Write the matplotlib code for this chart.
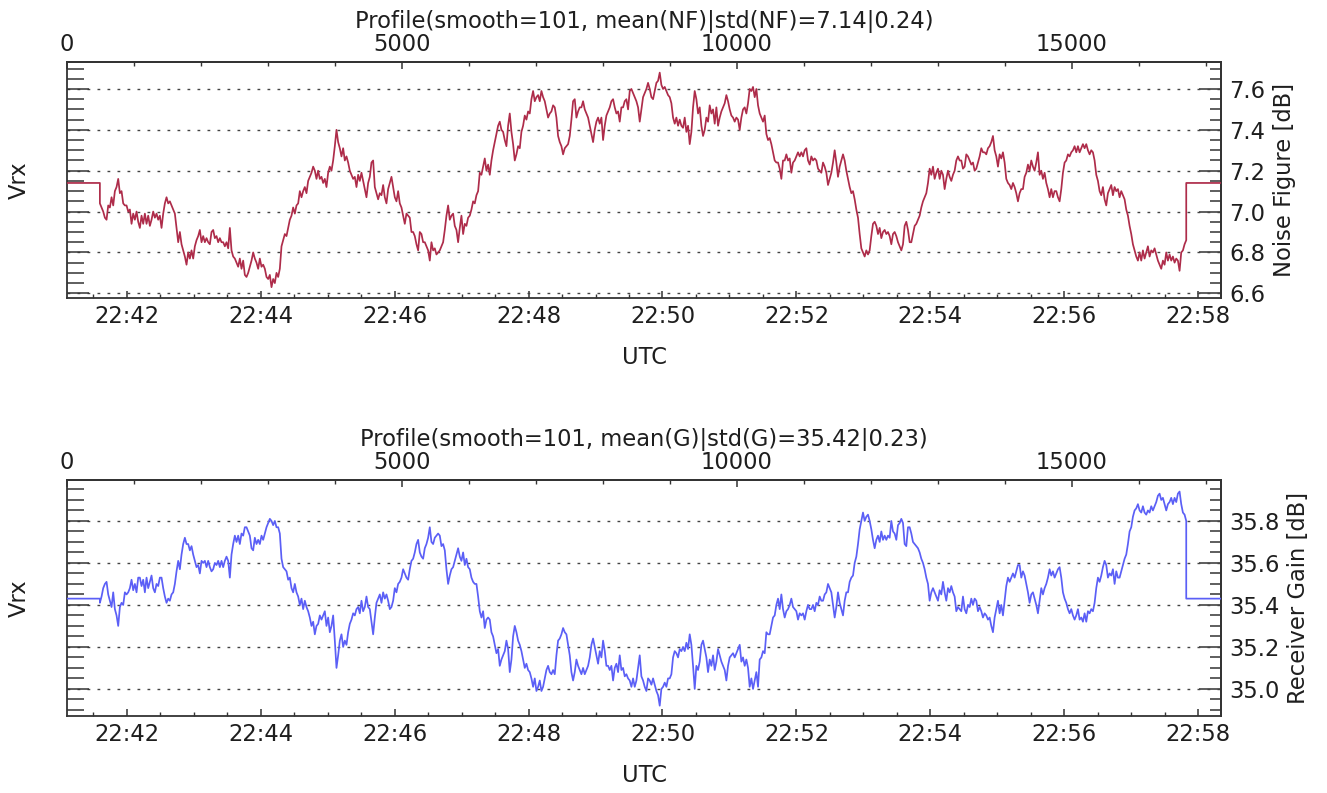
import numpy as np
import matplotlib
matplotlib.use("Agg")
import matplotlib.pyplot as plt
from matplotlib.ticker import MultipleLocator, FuncFormatter, FormatStrFormatter, FixedLocator

# ---------------- data ----------------
HOUR = 22                 # times are minutes after 22:00 UTC
T_PAD_START = 41.109      # time of sample 0 (22:41:06.5)
T_PAD_END = 58.339        # time of last sample
T_FIRST = 41.60           # first valid (non padded) sample
T_LAST = 57.82            # last valid sample
SAMPLES_PER_MIN = 1000

NF_PAD = 7.14             # padding value = mean(NF)
G_PAD = 35.43             # padding value = mean(G)

NF_TITLE = "Profile(smooth=101, mean(NF)|std(NF)=7.14|0.24)"
G_TITLE = "Profile(smooth=101, mean(G)|std(G)=35.42|0.23)"

INDEX_MAJOR = [0, 5000, 10000, 15000]
INDEX_MINOR = [1000, 2000, 3000, 4000, 6000, 7000, 8000, 9000,
               11000, 12000, 13000, 14000, 16000, 17000]

nf_values = [
    7.04, 7.02, 7.00, 6.97, 6.96, 7.03, 7.02, 7.07, 7.03, 7.10,
    7.12, 7.16, 7.09, 7.10, 7.04, 7.03, 7.03, 7.00, 7.01, 6.94,
    6.99, 6.96, 7.00, 6.95, 6.92, 6.98, 6.94, 6.99, 6.94, 6.98,
    6.93, 6.96, 7.00, 6.97, 6.99, 6.96, 6.98, 6.92, 6.99, 7.04,
    7.07, 7.04, 7.05, 7.03, 7.01, 6.99, 6.92, 6.85, 6.90, 6.84,
    6.81, 6.78, 6.74, 6.80, 6.77, 6.81, 6.77, 6.83, 6.86, 6.88,
    6.91, 6.85, 6.88, 6.85, 6.87, 6.85, 6.84, 6.90, 6.91, 6.87,
    6.88, 6.85, 6.87, 6.85, 6.85, 6.83, 6.85, 6.82, 6.92, 6.81,
    6.78, 6.77, 6.75, 6.73, 6.77, 6.72, 6.76, 6.69, 6.68, 6.70,
    6.73, 6.76, 6.80, 6.77, 6.75, 6.72, 6.77, 6.73, 6.74, 6.72,
    6.68, 6.67, 6.69, 6.63, 6.67, 6.65, 6.70, 6.68, 6.72, 6.83,
    6.86, 6.89, 6.88, 6.92, 6.96, 6.98, 7.02, 6.99, 7.03, 7.04,
    7.10, 7.07, 7.10, 7.12, 7.09, 7.15, 7.17, 7.19, 7.22, 7.20,
    7.16, 7.20, 7.16, 7.17, 7.14, 7.16, 7.12, 7.19, 7.22, 7.20,
    7.25, 7.32, 7.40, 7.34, 7.31, 7.27, 7.31, 7.25, 7.27, 7.24,
    7.20, 7.18, 7.16, 7.17, 7.12, 7.18, 7.15, 7.19, 7.15, 7.11,
    7.07, 7.14, 7.17, 7.24, 7.25, 7.12, 7.09, 7.06, 7.09, 7.08,
    7.13, 7.07, 7.04, 7.11, 7.14, 7.17, 7.12, 7.07, 7.05, 7.10,
    7.04, 7.02, 6.98, 6.94, 6.99, 6.98, 6.97, 6.90, 6.90, 6.88,
    6.84, 6.81, 6.90, 6.89, 6.85, 6.85, 6.83, 6.81, 6.76, 6.85,
    6.81, 6.82, 6.79, 6.80, 6.81, 6.83, 6.85, 6.91, 6.98, 7.03,
    6.96, 6.98, 6.99, 6.93, 6.91, 6.85, 6.92, 6.98, 6.89, 6.94,
    6.93, 6.97, 6.98, 7.01, 7.05, 7.04, 7.08, 7.10, 7.19, 7.18,
    7.22, 7.26, 7.20, 7.23, 7.18, 7.25, 7.30, 7.34, 7.38, 7.42,
    7.44, 7.40, 7.39, 7.35, 7.32, 7.42, 7.48, 7.39, 7.33, 7.25,
    7.28, 7.32, 7.31, 7.39, 7.42, 7.47, 7.45, 7.49, 7.48, 7.55,
    7.59, 7.54, 7.56, 7.57, 7.54, 7.59, 7.56, 7.54, 7.50, 7.46,
    7.48, 7.49, 7.52, 7.51, 7.46, 7.37, 7.34, 7.32, 7.28, 7.31,
    7.32, 7.33, 7.37, 7.45, 7.54, 7.55, 7.46, 7.49, 7.51, 7.51,
    7.54, 7.50, 7.48, 7.46, 7.42, 7.38, 7.34, 7.40, 7.44, 7.46,
    7.43, 7.46, 7.35, 7.42, 7.47, 7.49, 7.51, 7.54, 7.55, 7.51,
    7.48, 7.49, 7.44, 7.51, 7.51, 7.54, 7.55, 7.50, 7.59, 7.60,
    7.58, 7.56, 7.54, 7.51, 7.44, 7.50, 7.56, 7.58, 7.60, 7.63,
    7.60, 7.56, 7.55, 7.59, 7.63, 7.64, 7.68, 7.62, 7.60, 7.61,
    7.59, 7.57, 7.56, 7.53, 7.46, 7.43, 7.46, 7.42, 7.45, 7.42,
    7.41, 7.46, 7.39, 7.42, 7.33, 7.39, 7.51, 7.59, 7.55, 7.48,
    7.51, 7.42, 7.37, 7.40, 7.46, 7.44, 7.52, 7.48, 7.50, 7.43,
    7.51, 7.42, 7.46, 7.49, 7.51, 7.53, 7.57, 7.54, 7.50, 7.47,
    7.46, 7.44, 7.46, 7.45, 7.40, 7.46, 7.50, 7.51, 7.48, 7.53,
    7.60, 7.59, 7.61, 7.56, 7.60, 7.52, 7.48, 7.46, 7.44, 7.47,
    7.38, 7.35, 7.36, 7.33, 7.29, 7.25, 7.24, 7.24, 7.21, 7.16,
    7.25, 7.25, 7.28, 7.25, 7.26, 7.19, 7.24, 7.25, 7.27, 7.29,
    7.27, 7.29, 7.27, 7.30, 7.31, 7.25, 7.23, 7.27, 7.25, 7.26,
    7.25, 7.21, 7.20, 7.19, 7.24, 7.22, 7.19, 7.13,
    7.16, 7.19, 7.24, 7.30, 7.24, 7.17, 7.22, 7.25, 7.28, 7.25,
    7.20, 7.16, 7.12, 7.09, 7.10, 7.06, 7.01, 6.97, 6.89, 6.82,
    6.80, 6.78, 6.81, 6.79, 6.81, 6.88, 6.94, 6.95, 6.93, 6.89,
    6.92, 6.87, 6.90, 6.91, 6.89, 6.90, 6.88, 6.84, 6.89, 6.90,
    6.88, 6.85, 6.83, 6.81, 6.84, 6.93, 6.95, 6.91, 6.85, 6.85,
    6.89, 6.93, 6.94, 6.96, 6.98, 7.02, 7.05, 7.07, 7.09, 7.14,
    7.21, 7.18, 7.22, 7.16, 7.19, 7.21, 7.16, 7.20, 7.18, 7.11,
    7.16, 7.20, 7.17, 7.15, 7.18, 7.20, 7.25, 7.27, 7.25, 7.25,
    7.21, 7.22, 7.28, 7.27, 7.25, 7.23, 7.24, 7.20, 7.21, 7.24,
    7.27, 7.31, 7.29, 7.29, 7.28, 7.31, 7.32, 7.34, 7.37, 7.30,
    7.27, 7.22, 7.28, 7.26, 7.29, 7.24, 7.16, 7.14, 7.13, 7.11,
    7.14, 7.12, 7.09, 7.05, 7.09, 7.11, 7.11, 7.17, 7.19, 7.23,
    7.20, 7.25, 7.22, 7.20, 7.24, 7.29, 7.18, 7.20, 7.16, 7.19,
    7.14, 7.11, 7.07, 7.11, 7.07, 7.10, 7.10, 7.07, 7.05, 7.11,
    7.19, 7.24, 7.25, 7.28, 7.27, 7.29, 7.30, 7.32, 7.29, 7.32,
    7.29, 7.31, 7.33, 7.31, 7.33, 7.30, 7.28, 7.30, 7.29, 7.25,
    7.18, 7.15, 7.10, 7.08, 7.12, 7.06, 7.03, 7.09, 7.11, 7.13,
    7.08, 7.12, 7.10, 7.11, 7.07, 7.10, 7.08, 7.06, 7.01, 6.98,
    6.93, 6.89, 6.84, 6.81, 6.78, 6.76, 6.80, 6.76, 6.81, 6.77,
    6.80, 6.83, 6.78, 6.81, 6.80, 6.82, 6.79, 6.76, 6.74, 6.72,
    6.76, 6.74, 6.80, 6.76, 6.79, 6.76, 6.78, 6.75, 6.77, 6.76,
    6.71, 6.80, 6.81, 6.84, 6.86,
]

g_values = [
    35.41, 35.44, 35.48, 35.50, 35.51, 35.45, 35.42, 35.39, 35.46, 35.38,
    35.35, 35.30, 35.39, 35.41, 35.40, 35.46, 35.45, 35.46, 35.48, 35.52,
    35.47, 35.50, 35.46, 35.53, 35.53, 35.49, 35.52, 35.46, 35.53, 35.48,
    35.51, 35.54, 35.48, 35.46, 35.50, 35.49, 35.53, 35.53, 35.48, 35.44,
    35.41, 35.43, 35.42, 35.45, 35.46, 35.50, 35.56, 35.61, 35.57, 35.64,
    35.69, 35.72, 35.69, 35.69, 35.66, 35.68, 35.64, 35.61, 35.58, 35.59,
    35.55, 35.61, 35.60, 35.61, 35.58, 35.61, 35.58, 35.56, 35.57, 35.60,
    35.59, 35.61, 35.58, 35.61, 35.58, 35.61, 35.63, 35.61, 35.53, 35.64,
    35.69, 35.73, 35.70, 35.73, 35.69, 35.74, 35.73, 35.77, 35.77, 35.75,
    35.73, 35.67, 35.66, 35.72, 35.69, 35.71, 35.69, 35.73, 35.71, 35.74,
    35.77, 35.79, 35.81, 35.80, 35.78, 35.80, 35.77, 35.77, 35.74, 35.62,
    35.58, 35.57, 35.56, 35.52, 35.53, 35.48, 35.46, 35.50, 35.46, 35.44,
    35.40, 35.43, 35.38, 35.42, 35.39, 35.37, 35.34, 35.30, 35.32, 35.26,
    35.30, 35.31, 35.35, 35.33, 35.35, 35.37, 35.30, 35.34, 35.27, 35.30,
    35.35, 35.23, 35.10, 35.16, 35.23, 35.26, 35.20, 35.23, 35.21, 35.27,
    35.31, 35.33, 35.36, 35.35, 35.38, 35.39, 35.36, 35.42, 35.37, 35.39,
    35.44, 35.39, 35.38, 35.32, 35.26, 35.34, 35.41, 35.43, 35.45, 35.41,
    35.46, 35.43, 35.45, 35.42, 35.38, 35.39, 35.42, 35.48, 35.46, 35.50,
    35.51, 35.53, 35.57, 35.55, 35.53, 35.52, 35.57, 35.61, 35.62, 35.65,
    35.69, 35.71, 35.65, 35.63, 35.62, 35.67, 35.69, 35.72, 35.77, 35.70,
    35.69, 35.72, 35.73, 35.74, 35.73, 35.68, 35.69, 35.66, 35.57, 35.50,
    35.54, 35.57, 35.58, 35.61, 35.64, 35.67, 35.63, 35.61, 35.65, 35.59,
    35.62, 35.58, 35.57, 35.53, 35.51, 35.50, 35.50, 35.44, 35.37, 35.34,
    35.37, 35.29, 35.33, 35.34, 35.33, 35.27, 35.25, 35.21, 35.17, 35.19,
    35.11, 35.14, 35.16, 35.18, 35.23, 35.19, 35.08, 35.14, 35.25, 35.30,
    35.27, 35.23, 35.21, 35.18, 35.14, 35.10, 35.12, 35.09, 35.08, 35.05,
    35.01, 35.05, 34.99, 35.01, 35.04, 34.99, 35.01, 35.05, 35.09, 35.11,
    35.08, 35.07, 35.09, 35.07, 35.16, 35.23, 35.24, 35.26, 35.29, 35.27,
    35.26, 35.21, 35.16, 35.08, 35.04, 35.08, 35.14, 35.11, 35.09, 35.07,
    35.10, 35.07, 35.09, 35.11, 35.15, 35.21, 35.24, 35.20, 35.16, 35.12,
    35.18, 35.15, 35.23, 35.18, 35.11, 35.11, 35.09, 35.11, 35.04, 35.10,
    35.12, 35.08, 35.16, 35.09, 35.10, 35.06, 35.07, 35.05, 35.04, 35.01,
    35.05, 35.01, 35.04, 35.10, 35.16, 35.06, 35.04, 35.01, 34.99, 35.05,
    35.04, 35.02, 35.05, 35.02, 34.99, 34.97, 34.92, 35.00, 35.01, 35.03,
    35.01, 35.05, 35.05, 35.07, 35.15, 35.18, 35.17, 35.15, 35.19, 35.18,
    35.20, 35.18, 35.22, 35.19, 35.26, 35.21, 35.11, 35.00, 35.11, 35.09,
    35.13, 35.21, 35.23, 35.19, 35.15, 35.08, 35.14, 35.11, 35.16, 35.09,
    35.13, 35.19, 35.16, 35.13, 35.11, 35.09, 35.04, 35.11, 35.15, 35.16,
    35.17, 35.15, 35.17, 35.19, 35.21, 35.13, 35.15, 35.11, 35.14, 35.10,
    35.01, 35.05, 35.00, 35.04, 35.08, 35.01, 35.14, 35.15, 35.18, 35.17,
    35.27, 35.26, 35.26, 35.30, 35.34, 35.35, 35.40, 35.43, 35.38, 35.45,
    35.38, 35.34, 35.37, 35.38, 35.40, 35.43, 35.39, 35.38, 35.37, 35.33,
    35.36, 35.35, 35.36, 35.33, 35.37, 35.40, 35.38, 35.38, 35.40, 35.37,
    35.41, 35.40, 35.44, 35.42, 35.42, 35.45, 35.46, 35.50,
    35.48, 35.46, 35.40, 35.34, 35.39, 35.46, 35.41, 35.38, 35.35, 35.42,
    35.46, 35.46, 35.51, 35.53, 35.54, 35.60, 35.63, 35.69, 35.76, 35.80,
    35.84, 35.80, 35.82, 35.83, 35.80, 35.76, 35.71, 35.67, 35.71, 35.73,
    35.70, 35.75, 35.71, 35.73, 35.71, 35.73, 35.72, 35.80, 35.75, 35.74,
    35.71, 35.78, 35.79, 35.81, 35.79, 35.69, 35.68, 35.77, 35.77, 35.74,
    35.70, 35.69, 35.68, 35.67, 35.65, 35.62, 35.60, 35.57, 35.53, 35.50,
    35.42, 35.46, 35.48, 35.46, 35.44, 35.42, 35.47, 35.45, 35.51, 35.46,
    35.42, 35.48, 35.46, 35.49, 35.46, 35.44, 35.37, 35.39, 35.38, 35.37,
    35.44, 35.38, 35.36, 35.40, 35.39, 35.43, 35.40, 35.43, 35.42, 35.37,
    35.39, 35.37, 35.34, 35.36, 35.35, 35.33, 35.34, 35.30, 35.27, 35.34,
    35.38, 35.42, 35.36, 35.40, 35.35, 35.42, 35.49, 35.53, 35.51, 35.53,
    35.55, 35.53, 35.56, 35.59, 35.59, 35.53, 35.56, 35.54, 35.50, 35.46,
    35.41, 35.45, 35.46, 35.43, 35.40, 35.36, 35.42, 35.48, 35.45, 35.48,
    35.50, 35.53, 35.57, 35.54, 35.56, 35.53, 35.55, 35.57, 35.58, 35.53,
    35.46, 35.43, 35.41, 35.38, 35.36, 35.38, 35.35, 35.33, 35.35, 35.38,
    35.33, 35.34, 35.32, 35.36, 35.32, 35.37, 35.36, 35.38, 35.37, 35.41,
    35.48, 35.53, 35.51, 35.54, 35.58, 35.61, 35.59, 35.53, 35.55, 35.54,
    35.57, 35.50, 35.56, 35.53, 35.53, 35.56, 35.59, 35.62, 35.64, 35.69,
    35.75, 35.77, 35.82, 35.85, 35.86, 35.88, 35.85, 35.84, 35.87, 35.84,
    35.83, 35.85, 35.84, 35.87, 35.85, 35.87, 35.89, 35.92, 35.93, 35.90,
    35.91, 35.88, 35.85, 35.88, 35.89, 35.91, 35.88, 35.91, 35.89, 35.93,
    35.94, 35.88, 35.84, 35.83, 35.80,
]

NF_YLIM = (6.577, 7.732)
G_YLIM = (34.871, 35.995)
NF_COLOR = "#AE2C4A"
G_COLOR = "#5B5FF6"

# ---------------- figure ----------------
plt.rcParams["font.family"] = ["DejaVu Sans"]
FS = 16.3
TXT = "#1e1e1e"
SPINE = "#333333"
GRID = "#444444"

W, H = 1327, 793
fig = plt.figure(figsize=(W / 100, H / 100), dpi=100)


def rect(left, top, right, bottom):
    return [left / W, 1 - bottom / H, (right - left) / W, (bottom - top) / H]


def time_fmt(v, pos):
    total = HOUR * 60 + int(round(v))
    return f"{total // 60:02d}:{total % 60:02d}"


def panel(r, values, pad, color, ylim, title, right_label, right_label_x):
    ax = fig.add_axes(r)
    t = np.linspace(T_FIRST, T_LAST, len(values))
    x = np.concatenate([[T_PAD_START, T_FIRST], t, [T_LAST, T_PAD_END]])
    y = np.concatenate([[pad, pad], values, [pad, pad]])
    ax.plot(x, y, color=color, lw=1.25, zorder=3)
    ax.set_xlim(T_PAD_START, T_PAD_END)
    ax.set_ylim(*ylim)

    for s in ax.spines.values():
        s.set_color(SPINE)
        s.set_linewidth(1.3)

    # left (Vrx) axis: ticks only
    ax.yaxis.set_major_locator(MultipleLocator(0.2))
    ax.yaxis.set_minor_locator(MultipleLocator(0.05))
    ax.grid(axis="y", which="major", linestyle=(0, (2.0, 5.2)), color=GRID, lw=1.0)
    ax.tick_params(axis="y", which="major", direction="in", length=16, width=1.1,
                   color=SPINE, left=True, right=False, labelleft=False)
    ax.tick_params(axis="y", which="minor", direction="in", length=12, width=1.1,
                   color=SPINE, left=True, right=False)
    ax.set_ylabel("Vrx", fontsize=FS, color=TXT, va="center", ha="center")
    ax.yaxis.set_label_coords((19.5 - 67) / 1154, 0.5)

    # bottom time axis
    ax.xaxis.set_major_locator(MultipleLocator(2))
    ax.xaxis.set_minor_locator(MultipleLocator(0.5))
    ax.xaxis.set_major_formatter(FuncFormatter(time_fmt))
    ax.tick_params(axis="x", which="major", direction="in", length=5, width=1.1,
                   color=SPINE, top=False, labelsize=FS, labelcolor=TXT, pad=5)
    ax.tick_params(axis="x", which="minor", direction="in", length=3, width=1.0,
                   color=SPINE, top=False)
    ax.set_xlabel("UTC", fontsize=FS, color=TXT, va="center", ha="center")
    ax.xaxis.set_label_coords(0.5, -60 / 236)

    # top sample-index axis
    sec = ax.secondary_xaxis(
        "top",
        functions=(lambda tt: (tt - T_PAD_START) * SAMPLES_PER_MIN,
                   lambda ss: ss / SAMPLES_PER_MIN + T_PAD_START))
    sec.xaxis.set_major_locator(FixedLocator(INDEX_MAJOR))
    sec.xaxis.set_minor_locator(FixedLocator(INDEX_MINOR))
    sec.xaxis.set_major_formatter(FormatStrFormatter("%d"))
    sec.tick_params(axis="x", which="major", direction="in", length=5, width=1.1,
                    color=SPINE, labelsize=FS, labelcolor=TXT, pad=4)
    sec.tick_params(axis="x", which="minor", direction="in", length=3, width=1.0,
                    color=SPINE)
    sec.spines["top"].set_color(SPINE)
    sec.spines["top"].set_linewidth(1.3)

    # right value axis
    secy = ax.secondary_yaxis("right")
    secy.yaxis.set_major_locator(MultipleLocator(0.2))
    secy.yaxis.set_minor_locator(MultipleLocator(0.05))
    secy.yaxis.set_major_formatter(FormatStrFormatter("%.1f"))
    secy.tick_params(axis="y", which="major", direction="in", length=16, width=1.1,
                     color=SPINE, labelsize=FS, labelcolor=TXT, pad=6)
    secy.tick_params(axis="y", which="minor", direction="in", length=8, width=1.1,
                     color=SPINE)
    secy.spines["right"].set_color(SPINE)
    secy.spines["right"].set_linewidth(1.3)
    secy.set_ylabel(right_label, fontsize=FS, color=TXT, va="center", ha="center")
    secy.yaxis.set_label_coords((right_label_x - 67) / 1154, 0.5,
                                transform=ax.transAxes)

    ax.set_title(title, fontsize=FS, color=TXT, y=1.144, pad=0)
    return ax


panel(rect(67, 62, 1221, 298), nf_values, NF_PAD, NF_COLOR, NF_YLIM,
      NF_TITLE, "Noise Figure [dB]", 1284)
panel(rect(67, 480, 1221, 716), g_values, G_PAD, G_COLOR, G_YLIM,
      G_TITLE, "Receiver Gain [dB]", 1299)

fig.savefig("out.png", dpi=100)
